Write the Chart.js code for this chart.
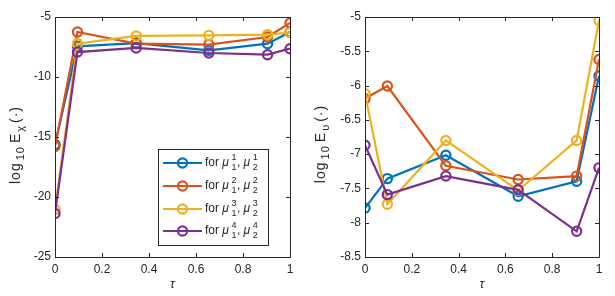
<!DOCTYPE html>
<html>
<head>
<meta charset="utf-8">
<script src="https://cdn.jsdelivr.net/npm/chart.js@4"></script>
<style>
  html,body{margin:0;padding:0;background:#fff;}
  #wrap{position:relative;width:615px;height:296px;}
  canvas{position:absolute;top:0;}
</style>
</head>
<body>
<div id="wrap">
  <canvas id="c1" width="307" height="296" style="left:0"></canvas>
  <canvas id="c2" width="308" height="296" style="left:307px"></canvas>
</div>
<script>
// sample points in tau
const tau = [0, 0.0955, 0.3455, 0.6545, 0.9045, 1];
const xTicks = [0, 0.2, 0.4, 0.6, 0.8, 1];

// left panel: log10 E_chi
const chi1 = [-15.63, -7.44, -7.17, -7.78, -7.22, -6.25];
const chi2 = [-15.78, -6.25, -7.22, -7.30, -6.67, -5.50];
const chi3 = [-21.05, -7.22, -6.58, -6.53, -6.47, -6.30];
const chi4 = [-21.38, -7.92, -7.58, -8.00, -8.14, -7.64];
const chiTicks = [-25, -20, -15, -10, -5];

// right panel: log10 E_upsilon
const ups1 = [-7.785, -7.357, -7.017, -7.615, -7.396, -5.86];
const ups2 = [-6.19, -6.006, -7.17, -7.37, -7.32, -5.62];
const ups3 = [-6.12, -7.73, -6.80, -7.53, -6.80, -5.05];
const ups4 = [-6.87, -7.59, -7.32, -7.52, -8.125, -7.20];
const upsTicks = [-8.5, -8, -7.5, -7, -6.5, -6, -5.5, -5];

const colors = ['#0072BD', '#D95319', '#EDB120', '#7E2F8E'];
const legendSup = ['1', '2', '3', '4'];

const FONT = '"Liberation Sans", Arial, Helvetica, sans-serif';
const INK = '#262626';

function makeSets(series){
  return series.map((vals, i) => ({
    data: tau.map((t, k) => ({x: t, y: vals[k]})),
    showLine: true,
    borderColor: colors[i],
    borderWidth: 2.2,
    pointRadius: 4.6,
    pointBorderWidth: 2.2,
    pointBorderColor: colors[i],
    pointBackgroundColor: 'rgba(0,0,0,0)',
    order: series.length - i
  }));
}

// box around the axes + inward tick marks on all four sides
const boxPlugin = {
  id: 'box',
  afterDraw(chart){
    const {ctx, chartArea: a} = chart;
    const xs = chart.scales.x, ys = chart.scales.y;
    ctx.save();
    ctx.strokeStyle = INK;
    ctx.lineWidth = 1;
    ctx.beginPath();
    ctx.rect(Math.round(a.left)+0.5, Math.round(a.top)+0.5, Math.round(a.right-a.left), Math.round(a.bottom-a.top));
    ctx.stroke();
    ctx.beginPath();
    xs.ticks.forEach(t => {
      const px = Math.round(xs.getPixelForValue(t.value)) + 0.5;
      ctx.moveTo(px, a.bottom); ctx.lineTo(px, a.bottom - 4);
      ctx.moveTo(px, a.top); ctx.lineTo(px, a.top + 4);
    });
    ys.ticks.forEach(t => {
      const py = Math.round(ys.getPixelForValue(t.value)) + 0.5;
      ctx.moveTo(a.left, py); ctx.lineTo(a.left + 4, py);
      ctx.moveTo(a.right, py); ctx.lineTo(a.right - 4, py);
    });
    ctx.stroke();
    ctx.restore();
  }
};

// axis titles with subscripts: [text, size, offset, gap after]
function drawYTitle(ctx, cx, cy, sym){
  const parts = [
    ['log', 14, 0, 2], ['10', 11, 5, 3], ['E', 14, 0, 1], [sym, 11, 5, 2], ['(\u00b7)', 14, 0, 0]
  ];
  ctx.save();
  ctx.translate(cx, cy);
  ctx.rotate(-Math.PI/2);
  ctx.fillStyle = INK;
  ctx.textBaseline = 'middle';
  ctx.letterSpacing = '1px';
  let w = 0;
  parts.forEach(p => { ctx.font = p[1] + 'px ' + FONT; w += ctx.measureText(p[0]).width + p[3]; });
  let x = -w/2;
  parts.forEach(p => {
    ctx.font = p[1] + 'px ' + FONT;
    ctx.fillText(p[0], x, p[2]);
    x += ctx.measureText(p[0]).width + p[3];
  });
  ctx.restore();
}

function titlePlugin(sym, labelX, labelY){
  return {
    id: 'titles',
    afterDraw(chart){
      const {ctx, chartArea: a} = chart;
      drawYTitle(ctx, labelX, labelY, sym);
      ctx.save();
      ctx.fillStyle = INK;
      ctx.font = 'italic 13px ' + FONT;
      ctx.textAlign = 'center';
      ctx.textBaseline = 'middle';
      ctx.fillText('\u03c4', (a.left + a.right)/2, 284);
      ctx.restore();
    }
  };
}

// legend for the left panel
const legendPlugin = {
  id: 'muLegend',
  afterDraw(chart){
    const ctx = chart.ctx;
    const bx = 158.5, by = 149.5, bw = 110, bh = 96;
    ctx.save();
    ctx.fillStyle = '#fff';
    ctx.fillRect(bx, by, bw, bh);
    ctx.strokeStyle = INK;
    ctx.lineWidth = 1;
    ctx.strokeRect(bx, by, bw, bh);
    const rows = [163, 186, 209, 231];
    rows.forEach((y, i) => {
      ctx.strokeStyle = colors[i];
      ctx.lineWidth = 2.2;
      ctx.beginPath();
      ctx.moveTo(163, y); ctx.lineTo(202, y);
      ctx.stroke();
      ctx.beginPath();
      ctx.arc(182.5, y, 4.6, 0, Math.PI*2);
      ctx.stroke();
      ctx.fillStyle = INK;
      ctx.textBaseline = 'middle';
      let x = 205;
      ctx.font = '12px ' + FONT;
      ctx.fillText('for', x, y); x += ctx.measureText('for ').width;
      ctx.font = 'italic 12px ' + FONT;
      ctx.fillText('\u03bc', x, y); x += ctx.measureText('\u03bc').width + 2.5;
      ctx.font = '9px ' + FONT;
      ctx.fillText(legendSup[i], x, y - 5);
      ctx.fillText('1', x, y + 5);
      x += ctx.measureText('1').width + 0.5;
      ctx.font = '12px ' + FONT;
      ctx.fillText(',', x, y); x += ctx.measureText(', ').width;
      ctx.font = 'italic 12px ' + FONT;
      ctx.fillText('\u03bc', x, y); x += ctx.measureText('\u03bc').width + 2.5;
      ctx.font = '9px ' + FONT;
      ctx.fillText(legendSup[i], x, y - 5);
      ctx.fillText('2', x, y + 5);
    });
    ctx.restore();
  }
};

function makeChart(id, series, yMin, yMax, yTickVals, padRight, yWidth, extra){
  return new Chart(document.getElementById(id), {
    type: 'scatter',
    data: {datasets: makeSets(series)},
    options: {
      responsive: false,
      animation: false,
      layout: {padding: {top: 17, right: padRight, bottom: 0, left: 0}},
      plugins: {legend: {display: false}, tooltip: {enabled: false}},
      scales: {
        x: {
          type: 'linear', min: 0, max: 1,
          grid: {display: false, drawTicks: false},
          border: {display: false},
          ticks: {padding: 5, color: INK, font: {family: FONT, size: 12}, callback: v => String(v)},
          afterBuildTicks: s => { s.ticks = xTicks.map(v => ({value: v})); },
          afterFit: s => { s.height = 39; }
        },
        y: {
          type: 'linear', min: yMin, max: yMax,
          grid: {display: false, drawTicks: false},
          border: {display: false},
          ticks: {padding: 4, color: INK, font: {family: FONT, size: 12}, callback: v => String(v)},
          afterBuildTicks: s => { s.ticks = yTickVals.map(v => ({value: v})); },
          afterFit: s => { s.width = yWidth; }
        }
      }
    },
    plugins: [boxPlugin].concat(extra)
  });
}

makeChart('c1', [chi1, chi2, chi3, chi4], -25, -5, chiTicks, 17, 55, [titlePlugin('\u03c7', 16, 145), legendPlugin]);
makeChart('c2', [ups1, ups2, ups3, ups4], -8.5, -5, upsTicks, 16, 58, [titlePlugin('\u03c5', 14, 144)]);
</script>
</body>
</html>
